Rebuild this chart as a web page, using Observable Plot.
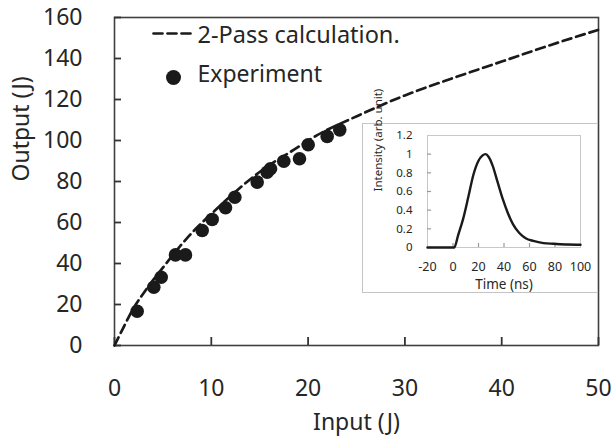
<!DOCTYPE html>
<html>
<head>
<meta charset="utf-8">
<script src="https://cdn.jsdelivr.net/npm/d3@7"></script>
<script src="https://cdn.jsdelivr.net/npm/@observablehq/plot@0.6"></script>
<style>
  html, body { margin: 0; padding: 0; background: white; }
  #wrap { position: relative; width: 611px; height: 436px; }
  #inset { position: absolute; left: 362px; top: 123px; width: 234px; height: 168px;
           border: 1px solid #c4c4c4; background: white; }
  svg { display: block; }
</style>
</head>
<body>
<div id="wrap"><div id="main"></div><div id="inset"></div></div>
<script>
// Experiment (measured points)
const expInput  = [2.34, 4.06, 4.82, 6.30, 7.33, 9.06, 10.09, 11.47, 12.43, 14.74, 15.77, 16.12, 17.49, 19.11, 20.01, 21.97, 23.27];
const expOutput = [16.7, 28.4, 33.3, 44.2, 44.2, 56.1, 61.5, 67.2, 72.3, 79.7, 84.5, 86.2, 89.9, 91.1, 97.9, 102.0, 105.2];

// 2-Pass calculation curve
const calcInput  = [0, 1, 2, 3, 4, 5, 6.7, 8.3, 10.3, 12.5, 14.4, 16, 18.2, 20.9, 25.1, 30, 35, 40, 45, 50];
const calcOutput = [0, 9.5, 18.5, 25.5, 32, 38, 48, 56.5, 65.5, 75, 82.5, 88, 94.5, 102.5, 112, 122, 130.5, 138.5, 146.5, 154];

// Inset: pulse shape
const pulseTime      = [-20, 0, 1, 4, 8, 12, 16, 20, 23, 25.5, 28, 31, 35, 39, 43, 47, 52, 57, 63, 71, 79, 90, 100];
const pulseIntensity = [0, 0, 0, 0.13, 0.31, 0.54, 0.78, 0.93, 0.985, 1.0, 0.97, 0.88, 0.70, 0.52, 0.37, 0.25, 0.155, 0.10, 0.07, 0.047, 0.04, 0.032, 0.03];

// Ticks and labels
const xTicks = [0, 10, 20, 30, 40, 50];
const yTicks = [0, 20, 40, 60, 80, 100, 120, 140, 160];
const insetXTicks = [-20, 0, 20, 40, 60, 80, 100];
const insetYTicks = [0, 0.2, 0.4, 0.6, 0.8, 1, 1.2];
const xLabel = "Input (J)";
const yLabel = "Output (J)";
const insetXLabel = "Time (ns)";
const insetYLabel = "Intensity (arb. unit)";
const legendCalc = "2-Pass calculation.";
const legendExp = "Experiment";

const ink = "#262626";
const expData = expInput.map((x, i) => ({x, y: expOutput[i]}));
const calcData = calcInput.map((x, i) => ({x, y: calcOutput[i]}));
const pulseData = pulseTime.map((t, i) => ({t, v: pulseIntensity[i]}));

// straight segment shape for the legend sample
const seg = {draw(context, l) { context.moveTo(0, 0); context.lineTo(0, -l); }};

// main plot geometry
const W = 611, H = 436, mL = 114, mR = 13, mT = 17, mB = 91;
const xDomain = [0, 50], yDomain = [0, 160];
const pxX = (W - mL - mR) / (xDomain[1] - xDomain[0]);   // pixels per x unit
const pxY = (H - mT - mB) / (yDomain[1] - yDomain[0]);   // pixels per y unit

const main = Plot.plot({
  width: W, height: H,
  marginLeft: mL, marginRight: mR, marginTop: mT, marginBottom: mB,
  style: {fontFamily: "'Noto Sans', sans-serif", fontSize: "23px", color: ink, background: "white", overflow: "visible"},
  x: {domain: xDomain, label: null},
  y: {domain: yDomain, label: null},
  marks: [
    // tick labels
    Plot.axisX(xTicks, {tickSize: 0, tickPadding: 34, tickFormat: d => String(d), fill: ink, label: null}),
    Plot.axisY(yTicks, {tickSize: 0, tickPadding: 32, tickFormat: d => String(d), fill: ink, label: null}),
    Plot.frame({stroke: "#404040", strokeWidth: 1.6}),
    // inward tick marks (8px / 7px long)
    Plot.ruleX(xTicks, {x: d => d, y1: yDomain[0], y2: yDomain[0] + 8 / pxY, stroke: "#333", strokeWidth: 1.8}),
    Plot.ruleY(yTicks, {y: d => d, x1: xDomain[0], x2: xDomain[0] + 7 / pxX, stroke: "#333", strokeWidth: 1.8}),
    Plot.text([yLabel], {frameAnchor: "left", dx: -93, rotate: -90, lineAnchor: "middle", fill: ink, fontSize: 23}),
    Plot.text([xLabel], {frameAnchor: "bottom", dy: 77, lineAnchor: "middle", fill: ink, fontSize: 23}),
    Plot.line(calcData, {x: "x", y: "y", curve: "monotone-x", stroke: "#1a1a1a", strokeWidth: 2.7, strokeDasharray: "9,5"}),
    Plot.dot(expData, {x: "x", y: "y", r: 6.8, fill: "#1a1a1a", stroke: "none"}),
    // legend
    Plot.vector([legendCalc], {frameAnchor: "top-left", dx: 39, dy: 16, rotate: 90, length: 40, anchor: "start",
      shape: seg, stroke: "#1a1a1a", strokeWidth: 2.7, strokeDasharray: "9,5"}),
    Plot.text([legendCalc], {frameAnchor: "top-left", dx: 83, dy: 18, lineAnchor: "middle", textAnchor: "start", fill: ink, fontSize: 23.5}),
    Plot.dot([legendExp], {frameAnchor: "top-left", dx: 59, dy: 60, r: 7.5, fill: "#1a1a1a", stroke: "none"}),
    Plot.text([legendExp], {frameAnchor: "top-left", dx: 83, dy: 57, lineAnchor: "middle", textAnchor: "start", fill: ink, fontSize: 23})
  ]
});
document.getElementById("main").appendChild(main);

// inset geometry
const iW = 234, iH = 168, iL = 64, iR = 17, iT = 11, iB = 45;
const tDomain = [-20, 100], vDomain = [0, 1.2];
const ipxX = (iW - iL - iR) / (tDomain[1] - tDomain[0]);
const ipxY = (iH - iT - iB) / (vDomain[1] - vDomain[0]);

const inset = Plot.plot({
  width: iW, height: iH,
  marginLeft: iL, marginRight: iR, marginTop: iT, marginBottom: iB,
  style: {fontFamily: "'Noto Sans', sans-serif", fontSize: "11px", color: ink, background: "white", overflow: "visible"},
  x: {domain: tDomain, label: null},
  y: {domain: vDomain, label: null},
  marks: [
    Plot.frame({stroke: "#c8c8c8", strokeWidth: 1}),
    Plot.ruleX(insetXTicks.slice(1, -1), {x: d => d, y1: vDomain[0], y2: vDomain[0] + 4 / ipxY, stroke: "#999", strokeWidth: 1.2}),
    Plot.ruleY(insetYTicks.slice(1, -1), {y: d => d, x1: tDomain[0], x2: tDomain[0] + 4 / ipxX, stroke: "#999", strokeWidth: 1.2}),
    Plot.axisX(insetXTicks, {tickSize: 0, tickPadding: 15, tickFormat: d => String(d), fill: ink, fontSize: 12.5, label: null}),
    Plot.axisY(insetYTicks, {tickSize: 0, tickPadding: 15, tickFormat: d => String(d), fill: ink, fontSize: 11.5, label: null}),
    Plot.text([insetYLabel], {frameAnchor: "left", dx: -49, rotate: -90, lineAnchor: "middle", fill: ink, fontSize: 11.5}),
    Plot.text([insetXLabel], {frameAnchor: "bottom", dy: 37, lineAnchor: "middle", fill: ink, fontSize: 13.5}),
    Plot.line(pulseData, {x: "t", y: "v", curve: "monotone-x", stroke: "#1a1a1a", strokeWidth: 2.4})
  ]
});
document.getElementById("inset").appendChild(inset);
</script>
</body>
</html>
